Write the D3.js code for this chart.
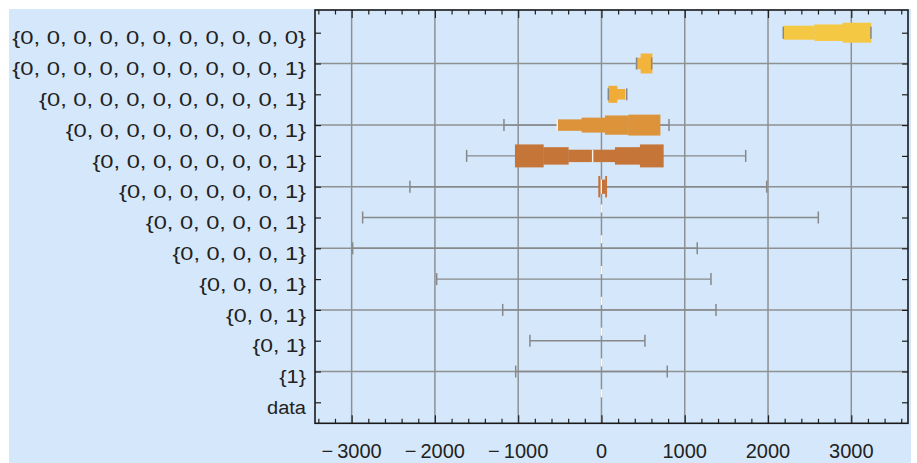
<!DOCTYPE html>
<html>
<head>
<meta charset="utf-8">
<script src="https://cdn.jsdelivr.net/npm/d3@7"></script>
<style>
  html, body { margin: 0; padding: 0; background: #ffffff; }
  svg { display: block; }
  text { font-family: "Liberation Sans", Arial, Helvetica, sans-serif; fill: #222222; }
</style>
</head>
<body>
<div id="chart"></div>
<script>
// ---------------- data ----------------
const categories = [
  "{0, 0, 0, 0, 0, 0, 0, 0, 0, 0, 0}",
  "{0, 0, 0, 0, 0, 0, 0, 0, 0, 0, 1}",
  "{0, 0, 0, 0, 0, 0, 0, 0, 0, 1}",
  "{0, 0, 0, 0, 0, 0, 0, 0, 1}",
  "{0, 0, 0, 0, 0, 0, 0, 1}",
  "{0, 0, 0, 0, 0, 0, 1}",
  "{0, 0, 0, 0, 0, 1}",
  "{0, 0, 0, 0, 1}",
  "{0, 0, 0, 1}",
  "{0, 0, 1}",
  "{0, 1}",
  "{1}",
  "data"
];
const whiskerLow  = [2183, 422, 82, -1171, -1619, -2300, -2868, -2988, -1979, -1186, -859, -1030, 0];
const whiskerHigh = [3236, 603, 303, 811, 1732, 1984, 2604, 1150, 1315, 1375, 522, 790, 0];
const medians     = [null, null, 296, -531, -106, -2, 0, 0, 0, 0, 0, 0, 0];
// stepped (notched) box outlines: breakpoints along the value axis
const boxEdges = [
  [2183, 2556, 2897, 3236],
  [412, 470, 607],
  [82, 186, 303],
  [-531, -238, 42, 322, 703],
  [-1039, -699, -399, 162, 462, 742],
  [-38, -20, 45, 62],
  null, null, null, null, null, null, null
];
// relative box thickness of each step
const boxLevels = [
  [0.61, 0.72, 0.87],
  [0.5, 0.87],
  [0.74, 0.46],
  [0.5, 0.65, 0.84, 0.91],
  [1.0, 0.76, 0.54, 0.76, 1.0],
  [0.93, 0.62, 0.93],
  null, null, null, null, null, null, null
];
const boxColors = ["#F5C843", "#F3B43B", "#EFAC37", "#DC933A", "#C67538", "#C4713A"];
const majorTicks = [-3000, -2000, -1000, 0, 1000, 2000, 3000];
const tickLabels = ["−3000", "−2000", "−1000", "0", "1000", "2000", "3000"];

// ---------------- layout ----------------
const W = 917, H = 463;
const L = 315, R = 908, T = 10, B = 423.3;

const svg = d3.select("#chart").append("svg").attr("width", W).attr("height", H);
svg.append("rect").attr("x", 9).attr("y", 9).attr("width", 902).attr("height", 454).attr("fill", "#D5E8FB");

const x = d3.scaleLinear().domain([-3440, 3681]).range([L, R]);
const y = d3.scalePoint().domain(categories).range([32.7, 402.3]);
const halfMax = y.step() * 0.373;

const gridColor = "#8e9092";
const whiskColor = "#86888a";

// grid lines
const grid = svg.append("g");
grid.selectAll("line.v").data(majorTicks).join("line")
  .attr("x1", d => x(d)).attr("x2", d => x(d)).attr("y1", T).attr("y2", B)
  .attr("stroke", gridColor).attr("stroke-width", 1.5);
grid.selectAll("line.h").data(categories.filter((d, i) => i % 2 === 1)).join("line")
  .attr("x1", L).attr("x2", R).attr("y1", d => y(d)).attr("y2", d => y(d))
  .attr("stroke", gridColor).attr("stroke-width", 1.5);

// whisker lines
const rows = categories.map((c, i) => ({
  c, i, lo: whiskerLow[i], hi: whiskerHigh[i], med: medians[i],
  edges: boxEdges[i], levels: boxLevels[i], color: boxColors[i]
}));
svg.append("g").selectAll("line").data(rows.filter(r => r.hi > r.lo)).join("line")
  .attr("x1", r => x(r.lo)).attr("x2", r => x(r.hi))
  .attr("y1", r => y(r.c)).attr("y2", r => y(r.c))
  .attr("stroke", whiskColor).attr("stroke-width", 1.4);

// boxes
const boxG = svg.append("g");
rows.filter(r => r.edges).forEach(r => {
  const segs = r.levels.map((lv, k) => ({ a: r.edges[k], b: r.edges[k + 1], lv }));
  boxG.selectAll(null).data(segs).join("rect")
    .attr("x", s => x(s.a)).attr("width", s => x(s.b) - x(s.a) + 0.4)
    .attr("y", s => y(r.c) - s.lv * halfMax).attr("height", s => 2 * s.lv * halfMax)
    .attr("fill", r.color);
});

// medians
const medG = svg.append("g");
rows.filter(r => r.med !== null).forEach(r => {
  const cy = y(r.c);
  if (r.edges) {
    let lv = 0.6;
    r.levels.forEach((l, k) => { if (r.med >= r.edges[k] && r.med <= r.edges[k + 1]) lv = l; });
    medG.append("line")
      .attr("x1", x(r.med)).attr("x2", x(r.med))
      .attr("y1", cy - lv * halfMax).attr("y2", cy + lv * halfMax)
      .attr("stroke", "#FFF4E6").attr("stroke-width", 1.4);
  } else {
    medG.append("line")
      .attr("x1", x(r.med)).attr("x2", x(r.med))
      .attr("y1", cy - 13).attr("y2", cy - 5)
      .attr("stroke", "#ffffff").attr("stroke-width", 1.6);
  }
});

// whisker caps
const capG = svg.append("g");
rows.filter(r => r.hi > r.lo).forEach(r => {
  [r.lo, r.hi].forEach(v => {
    capG.append("line")
      .attr("x1", x(v)).attr("x2", x(v))
      .attr("y1", y(r.c) - 6).attr("y2", y(r.c) + 6)
      .attr("stroke", whiskColor).attr("stroke-width", 1.5);
  });
});

// axes / frame
const minorTicks = d3.range(-3400, 3601, 200).filter(v => v % 1000 !== 0);
function styleAxis(g) {
  g.select(".domain").remove();
  g.selectAll(".tick line").attr("stroke", "#1f1f1f").attr("stroke-width", 1.2);
}
svg.append("g").attr("transform", `translate(0,${B})`)
  .call(d3.axisBottom(x).tickValues(majorTicks).tickSize(-8).tickFormat("")).call(styleAxis);
svg.append("g").attr("transform", `translate(0,${B})`)
  .call(d3.axisBottom(x).tickValues(minorTicks).tickSize(-4.5).tickFormat("")).call(styleAxis);
svg.append("g").attr("transform", `translate(0,${T})`)
  .call(d3.axisTop(x).tickValues(majorTicks).tickSize(-8).tickFormat("")).call(styleAxis);
svg.append("g").attr("transform", `translate(0,${T})`)
  .call(d3.axisTop(x).tickValues(minorTicks).tickSize(-4.5).tickFormat("")).call(styleAxis);
svg.append("g").attr("transform", `translate(${L},0)`)
  .call(d3.axisLeft(y).tickSize(-6).tickFormat("")).call(styleAxis);
svg.append("g").attr("transform", `translate(${R},0)`)
  .call(d3.axisRight(y).tickSize(-6).tickFormat("")).call(styleAxis);
svg.append("rect").attr("x", L).attr("y", T).attr("width", R - L).attr("height", B - T)
  .attr("fill", "none").attr("stroke", "#1a1a1a").attr("stroke-width", 1.6);

// bottom tick labels
const tl = svg.append("g").selectAll("text").data(majorTicks).join("text")
  .attr("x", d => x(d)).attr("y", 458)
  .attr("text-anchor", "middle").attr("font-size", 20);
tl.each(function (d, i) {
  const t = d3.select(this);
  const lab = tickLabels[i];
  if (lab.startsWith("−")) {
    t.append("tspan").text("−");
    t.append("tspan").attr("dx", 4).text(lab.slice(1));
  } else {
    t.text(lab);
  }
});

// category labels
svg.append("g").selectAll("text").data(categories).join("text")
  .attr("x", 306).attr("y", d => y(d) + 11.6)
  .attr("text-anchor", "end").attr("font-size", 18)
  .attr("lengthAdjust", "spacingAndGlyphs")
  .attr("textLength", d => d.startsWith("{") ? d.split(",").length * 26.7 : 39)
  .text(d => d);
</script>
</body>
</html>
